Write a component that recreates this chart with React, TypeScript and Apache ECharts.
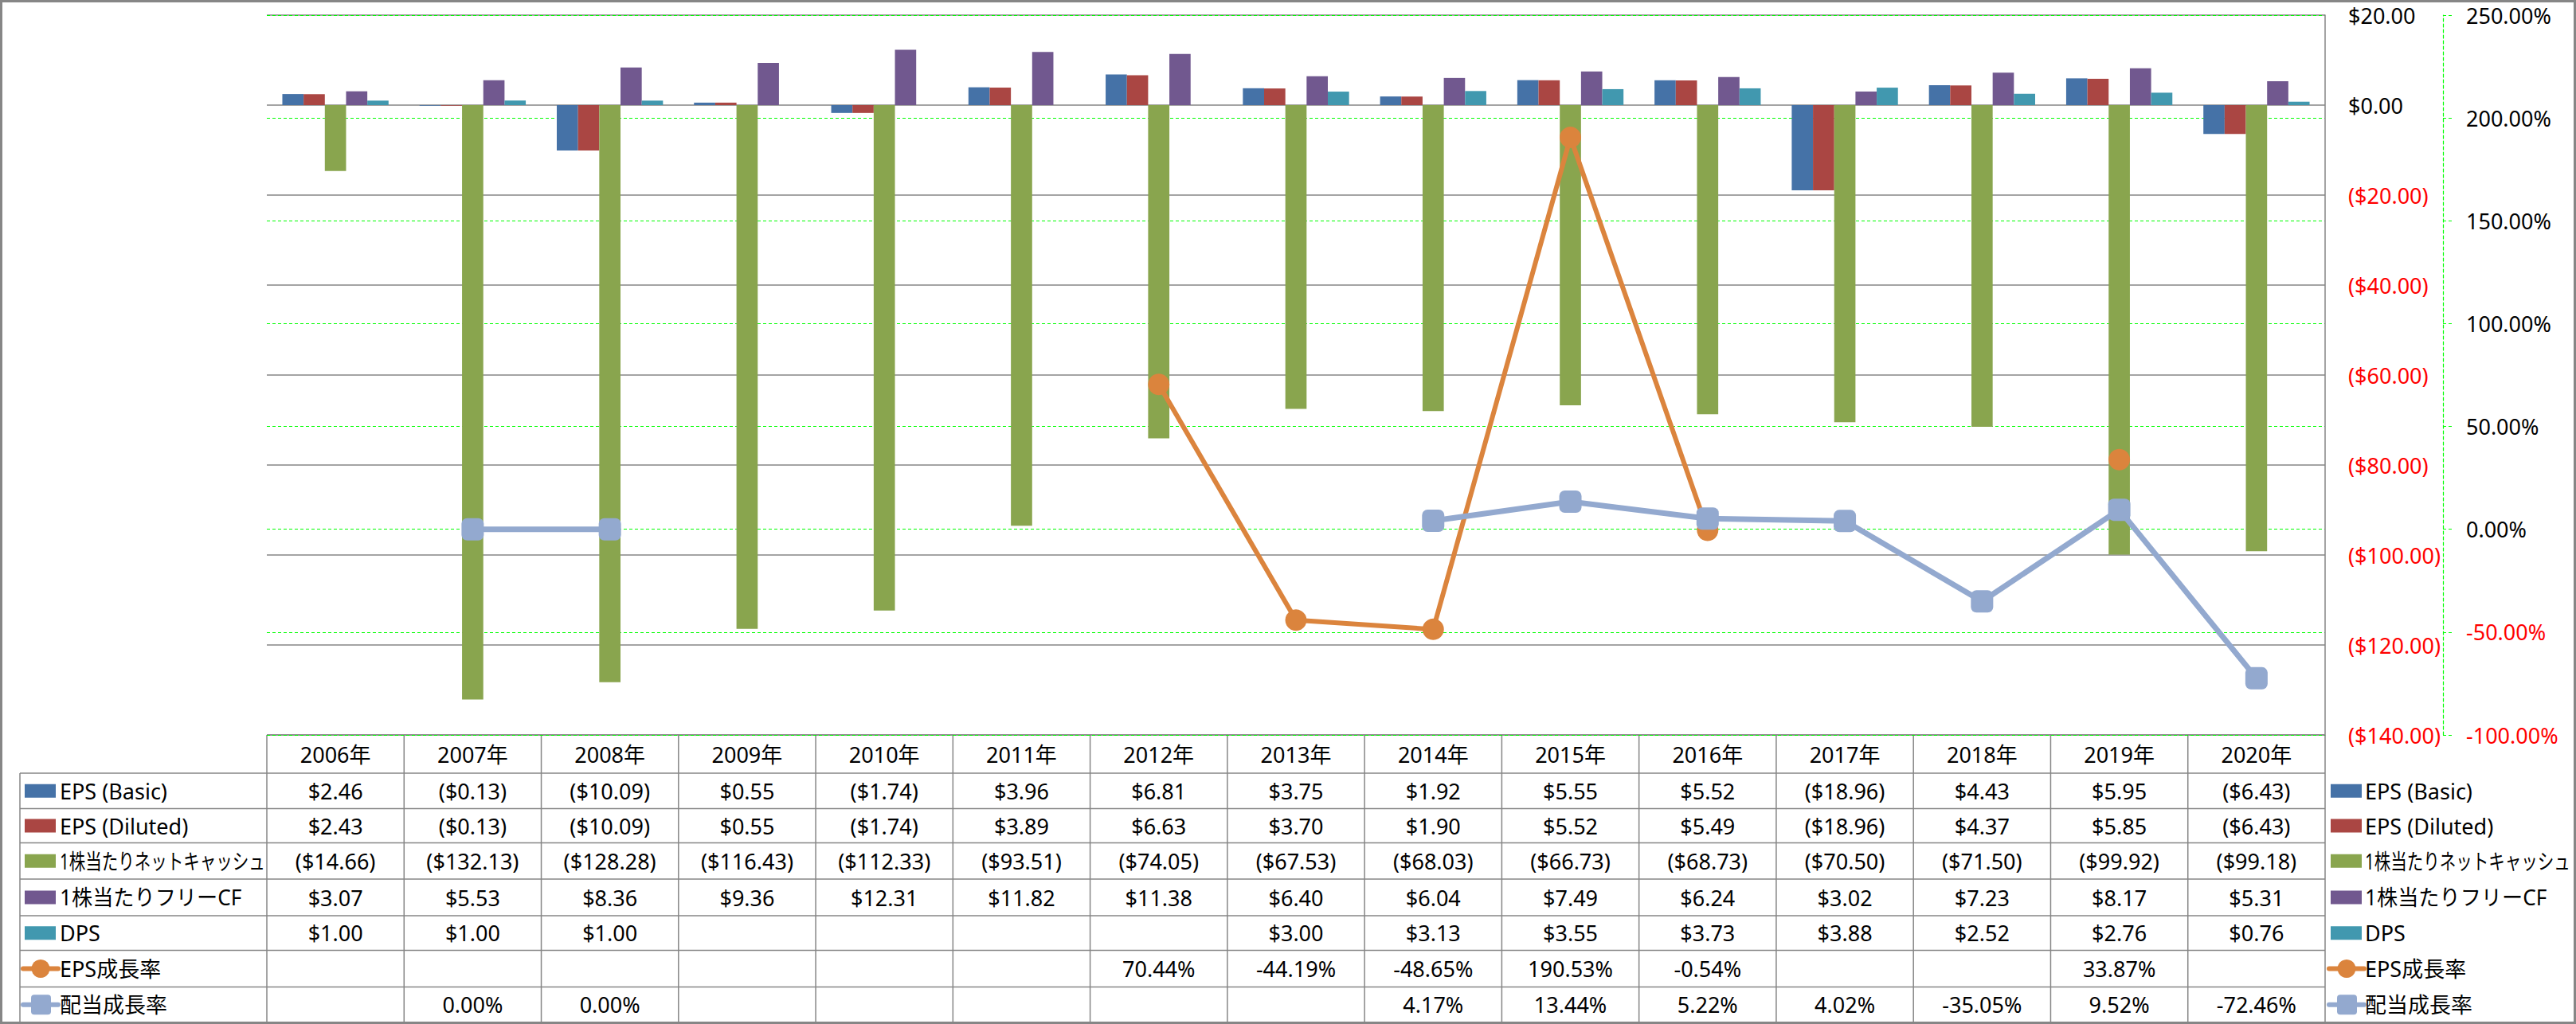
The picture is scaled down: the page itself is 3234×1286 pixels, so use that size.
import React, { useEffect, useRef } from 'react';
import * as echarts from 'echarts';

const years = ['2006年', '2007年', '2008年', '2009年', '2010年', '2011年', '2012年', '2013年', '2014年', '2015年', '2016年', '2017年', '2018年', '2019年', '2020年'];
const epsBasic = [2.46, -0.13, -10.09, 0.55, -1.74, 3.96, 6.81, 3.75, 1.92, 5.55, 5.52, -18.96, 4.43, 5.95, -6.43];
const epsDiluted = [2.43, -0.13, -10.09, 0.55, -1.74, 3.89, 6.63, 3.7, 1.9, 5.52, 5.49, -18.96, 4.37, 5.85, -6.43];
const netCash = [-14.66, -132.13, -128.28, -116.43, -112.33, -93.51, -74.05, -67.53, -68.03, -66.73, -68.73, -70.5, -71.5, -99.92, -99.18];
const freeCF = [3.07, 5.53, 8.36, 9.36, 12.31, 11.82, 11.38, 6.4, 6.04, 7.49, 6.24, 3.02, 7.23, 8.17, 5.31];
const dps = [1.0, 1.0, 1.0, null, null, null, null, 3.0, 3.13, 3.55, 3.73, 3.88, 2.52, 2.76, 0.76];
const epsGrowth = [null, null, null, null, null, null, 70.44, -44.19, -48.65, 190.53, -0.54, null, null, 33.87, null];
const divGrowth = [null, 0.0, 0.0, null, null, null, null, null, 4.17, 13.44, 5.22, 4.02, -35.05, 9.52, -72.46];

const leftTicks = { min: -140, max: 20, interval: 20 };
const rightTicks = { min: -100, max: 250, interval: 50 };

const W = 3234;
const H = 1286;
const GRID_L = 335;
const GRID_R = 2919;
const GRID_T = 19;
const GRID_B = 923;
const TABLE_L = 25;
const ROW_LINES = [923, 971, 1015.5, 1058.5, 1104, 1150, 1193.5, 1239.5, 1284];
const FONT = '"Noto Sans", "Noto Sans CJK JP", sans-serif';
const FS = 27;
const GRAY = '#868686';
const GREEN = '#00FF00';

const C = {
  blue: '#4572A7',
  red: '#AA4643',
  green: '#89A54E',
  purple: '#71588F',
  teal: '#4198AF',
  orange: '#DB843D',
  lblue: '#93A9CF',
};

function money(v: number | null) {
  if (v == null) return '';
  return v < 0 ? `($${Math.abs(v).toFixed(2)})` : `$${v.toFixed(2)}`;
}
function pct(v: number | null) {
  if (v == null) return '';
  return `${v.toFixed(2)}%`;
}

type Row = { name: string; data: (number | null)[]; fmt: (v: number | null) => string; color: string; kind: 'bar' | 'circle' | 'square'; sx?: number };

const rows: Row[] = [
  { name: 'EPS (Basic)', data: epsBasic, fmt: money, color: C.blue, kind: 'bar' },
  { name: 'EPS (Diluted)', data: epsDiluted, fmt: money, color: C.red, kind: 'bar' },
  { name: '1株当たりネットキャッシュ', data: netCash, fmt: money, color: C.green, kind: 'bar', sx: 0.76 },
  { name: '1株当たりフリーCF', data: freeCF, fmt: money, color: C.purple, kind: 'bar', sx: 0.97 },
  { name: 'DPS', data: dps, fmt: money, color: C.teal, kind: 'bar' },
  { name: 'EPS成長率', data: epsGrowth, fmt: pct, color: C.orange, kind: 'circle' },
  { name: '配当成長率', data: divGrowth, fmt: pct, color: C.lblue, kind: 'square' },
];

function keyElements(r: Row, x0: number, cy: number): any[] {
  if (r.kind === 'bar') {
    return [{ type: 'rect', shape: { x: x0, y: cy - 8.5, width: 39, height: 17 }, style: { fill: r.color } }];
  }
  const els: any[] = [
    { type: 'line', shape: { x1: x0 - 2, y1: cy, x2: x0 + 42, y2: cy }, style: { stroke: r.color, lineWidth: 6, lineCap: 'round' } },
  ];
  if (r.kind === 'circle') {
    els.push({ type: 'circle', shape: { cx: x0 + 20, cy, r: 11.5 }, style: { fill: r.color } });
  } else {
    els.push({ type: 'rect', shape: { x: x0 + 8, y: cy - 12.5, width: 25, height: 25, r: 4 }, style: { fill: r.color } });
  }
  return els;
}

function textEl(text: string, x: number, y: number, align: string, sx = 1, color = '#000') {
  return {
    type: 'text',
    x,
    y,
    scaleX: sx,
    style: { text, x: 0, y: 0, align, verticalAlign: 'middle', fontSize: FS, fontFamily: FONT, fill: color },
  };
}

function buildGraphic() {
  const els: any[] = [];
  const colW = (GRID_R - GRID_L) / years.length;
  // outer border
  els.push({ type: 'rect', shape: { x: 1.5, y: 1.5, width: W - 3, height: H - 3 }, style: { fill: 'none', stroke: GRAY, lineWidth: 3 }, z: 10 });
  // table horizontal lines
  ROW_LINES.forEach((y, i) => {
    els.push({ type: 'line', shape: { x1: i === 0 ? GRID_L : TABLE_L, y1: y, x2: GRID_R, y2: y }, style: { stroke: GRAY, lineWidth: 1.5 } });
  });
  // vertical lines
  els.push({ type: 'line', shape: { x1: TABLE_L, y1: ROW_LINES[1], x2: TABLE_L, y2: ROW_LINES[8] }, style: { stroke: GRAY, lineWidth: 1.5 } });
  for (let k = 0; k <= years.length; k++) {
    const x = GRID_L + k * colW;
    els.push({ type: 'line', shape: { x1: x, y1: ROW_LINES[0], x2: x, y2: ROW_LINES[8] }, style: { stroke: GRAY, lineWidth: 1.5 } });
  }
  // header
  const hy = (ROW_LINES[0] + ROW_LINES[1]) / 2;
  years.forEach((yr, i) => {
    els.push(textEl(yr, GRID_L + (i + 0.5) * colW, hy, 'center'));
  });
  // rows
  rows.forEach((r, ri) => {
    const cy = (ROW_LINES[ri + 1] + ROW_LINES[ri + 2]) / 2;
    els.push(...keyElements(r, 31, cy));
    els.push(textEl(r.name, 75, cy, 'left', r.sx || 1));
    r.data.forEach((v, i) => {
      const t = r.fmt(v);
      if (t) els.push(textEl(t, GRID_L + (i + 0.5) * colW, cy, 'center'));
    });
    // right legend
    els.push(...keyElements(r, 2926, cy));
    els.push(textEl(r.name, 2969, cy, 'left', r.sx || 1));
  });
  return els;
}

const labelRich = {
  n: { color: '#FF0000', fontSize: FS, fontFamily: FONT },
  p: { color: '#000000', fontSize: FS, fontFamily: FONT },
};

export default function App() {
  const ref = useRef<HTMLDivElement>(null);
  useEffect(() => {
    document.body.style.margin = '0';
    if (!ref.current) return;
    const chart = echarts.init(ref.current, undefined, { renderer: 'svg' });
    const barSeries = rows.filter((r) => r.kind === 'bar').map((r) => ({
      name: r.name,
      type: 'bar',
      yAxisIndex: 0,
      data: r.data,
      itemStyle: { color: r.color },
      barGap: '0%',
      barCategoryGap: '22.6%',
    }));
    const lineSeries = rows.filter((r) => r.kind !== 'bar').map((r, i) => ({
      name: r.name,
      type: 'line',
      yAxisIndex: 1,
      data: r.data,
      connectNulls: false,
      symbol: r.kind === 'circle' ? 'circle' : 'roundRect',
      symbolSize: r.kind === 'circle' ? 27 : 28,
      itemStyle: { color: r.color },
      lineStyle: { color: r.color, width: r.kind === 'circle' ? 6 : 7 },
      z: 3 + i,
    }));
    chart.setOption({
      animation: false,
      backgroundColor: '#ffffff',
      grid: { left: GRID_L, right: W - GRID_R, top: GRID_T, bottom: H - GRID_B, containLabel: false },
      xAxis: {
        type: 'category',
        data: years,
        axisLine: { show: false },
        axisTick: { show: false },
        axisLabel: { show: false },
        splitLine: { show: false },
      },
      yAxis: [
        {
          type: 'value',
          position: 'right',
          ...leftTicks,
          axisLine: { show: true, lineStyle: { color: GRAY, width: 1.5 } },
          axisTick: { show: false },
          axisLabel: {
            margin: 29,
            formatter: (v: number) => (v < 0 ? `{n|${money(v)}}` : `{p|${money(v)}}`),
            rich: labelRich,
          },
          splitLine: { show: true, lineStyle: { color: GRAY, width: 1.5, type: 'solid' } },
        },
        {
          type: 'value',
          position: 'right',
          offset: 148,
          ...rightTicks,
          axisLine: { show: true, lineStyle: { color: GREEN, width: 1.2, type: [4, 3] } },
          axisTick: { show: true, inside: false, length: 11, lineStyle: { color: GREEN, width: 1.2, type: [4, 3] } },
          axisLabel: {
            margin: 29,
            formatter: (v: number) => (v < 0 ? `{n|${pct(v)}}` : `{p|${pct(v)}}`),
            rich: labelRich,
          },
          splitLine: { show: true, lineStyle: { color: GREEN, width: 1.2, type: [4, 3] } },
        },
      ],
      series: [...barSeries, ...lineSeries],
      graphic: buildGraphic(),
    });
    return () => chart.dispose();
  }, []);
  return <div ref={ref} style={{ position: 'absolute', left: 0, top: 0, width: W, height: H }} />;
}
